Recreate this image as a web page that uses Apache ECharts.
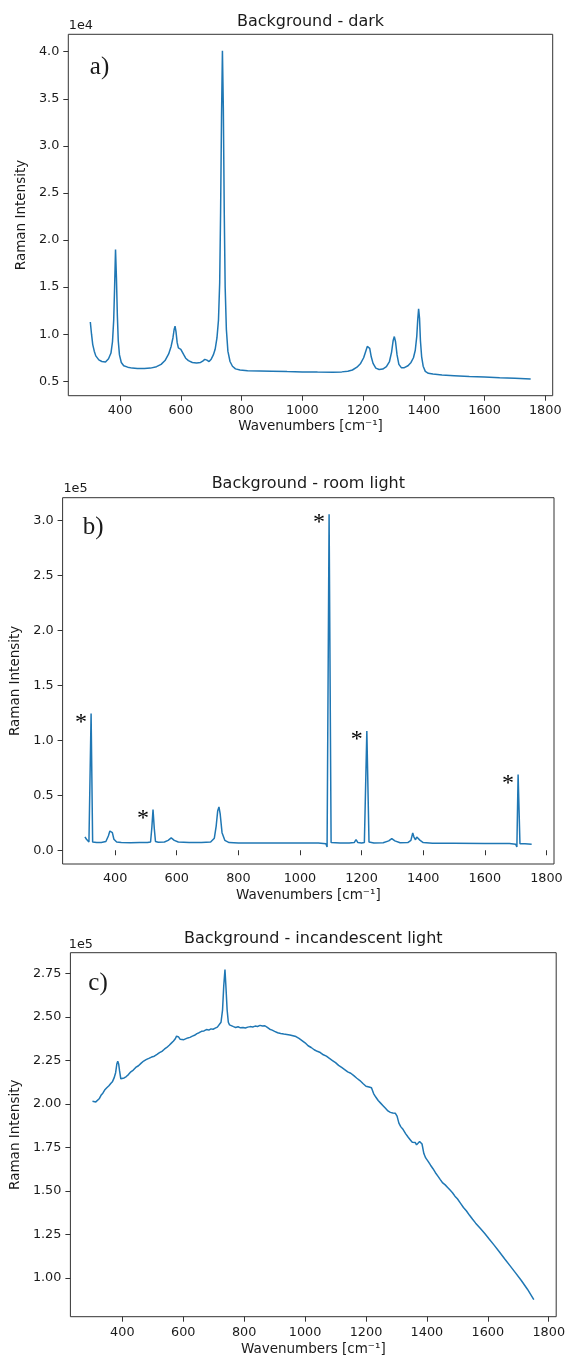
<!DOCTYPE html>
<html>
<head>
<meta charset="utf-8">
<script src="https://cdn.jsdelivr.net/npm/echarts@6/dist/echarts.min.js"></script>
<style>
html,body{margin:0;padding:0;background:#fff;}
#chart{width:568px;height:1361px;}
</style>
</head>
<body>
<div id="chart"></div>
<script>
// ---------- DATA ----------
// Panel a) Background - dark  (intensity in units of 1e4)
const darkX = [302,306,310,315,320,330,340,352,362,370,375,379,382,385,388,391,394,398,404,412,425,440,457,480,500,520,535,548,560,568,574,578,581,584,588,592,596,600,604,610,616,625,638,652,665,672,679,686,693,700,707,713,719,724,728,731,734,737,740,743,746,750,755,762,770,780,795,820,860,900,950,1000,1050,1100,1130,1150,1165,1180,1192,1202,1209,1214,1218,1222,1227,1233,1242,1253,1265,1277,1287,1294,1299,1303,1307,1312,1318,1326,1336,1348,1358,1366,1372,1377,1380,1383,1386,1389,1393,1398,1405,1415,1430,1460,1500,1550,1600,1650,1700,1752];
const darkY = [1.13,1.00,0.89,0.82,0.77,0.727,0.71,0.705,0.74,0.80,0.92,1.15,1.50,1.90,1.60,1.20,0.93,0.78,0.70,0.665,0.65,0.64,0.637,0.637,0.64,0.655,0.68,0.72,0.79,0.87,0.96,1.05,1.085,1.03,0.91,0.855,0.835,0.84,0.82,0.78,0.745,0.72,0.70,0.695,0.70,0.715,0.733,0.725,0.71,0.735,0.78,0.84,0.96,1.15,1.55,2.3,3.3,4.01,3.4,2.3,1.50,1.05,0.82,0.71,0.66,0.632,0.62,0.613,0.61,0.607,0.603,0.60,0.598,0.597,0.60,0.607,0.62,0.65,0.69,0.75,0.82,0.87,0.885,0.85,0.76,0.69,0.64,0.625,0.63,0.655,0.71,0.81,0.93,0.975,0.92,0.78,0.68,0.645,0.645,0.665,0.70,0.75,0.83,0.98,1.15,1.27,1.17,0.93,0.76,0.66,0.605,0.585,0.577,0.568,0.56,0.55,0.545,0.538,0.533,0.525];

// Panel b) Background - room light  (units of 1e5)
const roomX = [302,307,311,315,322,327,332,340,355,370,378,383,387,391,396,405,420,450,480,505,515,519,523,527,531,540,560,572,582,592,605,640,680,710,722,728,733,737,741,747,756,770,800,900,1000,1060,1084,1088,1094.5,1101,1106,1130,1160,1176,1182,1188,1200,1209,1217,1224,1240,1270,1288,1298,1308,1325,1350,1360,1366,1370,1375,1379,1384,1390,1400,1430,1500,1600,1680,1700,1704,1708,1714,1730,1752];
const roomY = [0.121,0.10,0.082,0.075,1.243,0.075,0.072,0.07,0.07,0.08,0.13,0.175,0.187,0.16,0.10,0.075,0.07,0.068,0.07,0.07,0.075,0.2,0.37,0.2,0.08,0.072,0.075,0.09,0.112,0.09,0.075,0.07,0.07,0.075,0.11,0.22,0.36,0.394,0.33,0.16,0.09,0.07,0.066,0.066,0.066,0.066,0.06,0.03,3.055,0.07,0.066,0.066,0.066,0.07,0.097,0.07,0.066,0.07,1.085,0.075,0.066,0.068,0.085,0.106,0.085,0.068,0.07,0.09,0.157,0.12,0.095,0.12,0.127,0.09,0.07,0.064,0.063,0.062,0.061,0.055,0.03,0.688,0.06,0.058,0.055];
// Peaks marked with an asterisk (wavenumber)
const starredPeaks = [322,523,1094.5,1217,1708];

// Panel c) Background - incandescent light  (units of 1e5)
const incX = [302,308,313,318,324,330,336,342,349,356,362,368,373,378,382,385,388,391,395,400,406,413,420,428,436,444,453,462,470,478,487,496,505,514,522,530,538,546,554,561,568,574,578,581,585,590,596,602,608,615,622,630,637,645,652,660,668,676,684,691,698,705,712,718,724,729,733,737,740,744,748,752,758,765,772,780,788,796,804,812,820,828,836,844,852,860,868,876,884,892,900,910,920,930,940,950,960,970,980,990,1000,1010,1020,1030,1040,1050,1060,1070,1080,1090,1100,1110,1120,1130,1140,1150,1160,1170,1180,1190,1200,1210,1218,1225,1232,1240,1248,1256,1264,1272,1280,1288,1296,1302,1308,1314,1322,1330,1338,1345,1352,1358,1362,1366,1371,1376,1380,1384,1390,1396,1404,1412,1420,1428,1436,1444,1452,1460,1468,1476,1484,1492,1500,1510,1520,1530,1540,1550,1560,1575,1590,1605,1620,1637,1655,1672,1691,1710,1730,1751];
const incY = [2.016,2.018,2.012,2.008,2.03,2.05,2.062,2.08,2.093,2.105,2.118,2.13,2.15,2.18,2.23,2.246,2.23,2.19,2.145,2.14,2.15,2.158,2.169,2.185,2.195,2.21,2.22,2.235,2.247,2.255,2.262,2.27,2.275,2.285,2.295,2.303,2.315,2.325,2.338,2.35,2.362,2.375,2.39,2.399,2.385,2.372,2.376,2.37,2.374,2.38,2.383,2.39,2.395,2.405,2.41,2.418,2.42,2.428,2.425,2.432,2.43,2.436,2.442,2.447,2.47,2.54,2.68,2.773,2.68,2.543,2.47,2.455,2.448,2.445,2.44,2.444,2.438,2.44,2.437,2.442,2.445,2.443,2.448,2.446,2.452,2.448,2.45,2.44,2.43,2.425,2.418,2.41,2.405,2.402,2.4,2.397,2.393,2.388,2.377,2.365,2.352,2.335,2.325,2.312,2.303,2.296,2.283,2.275,2.262,2.25,2.238,2.222,2.21,2.198,2.185,2.177,2.163,2.148,2.135,2.118,2.102,2.098,2.093,2.06,2.04,2.02,2.005,1.99,1.975,1.96,1.952,1.948,1.947,1.93,1.89,1.87,1.853,1.83,1.81,1.795,1.78,1.775,1.778,1.765,1.768,1.785,1.792,1.77,1.715,1.69,1.67,1.648,1.628,1.605,1.585,1.565,1.546,1.535,1.52,1.505,1.49,1.47,1.455,1.43,1.405,1.385,1.36,1.337,1.315,1.285,1.255,1.222,1.19,1.152,1.11,1.072,1.029,0.985,0.935,0.875];

// Tick labels
const xTicks = [400,600,800,1000,1200,1400,1600,1800];
const yTicksA = [0.5,1.0,1.5,2.0,2.5,3.0,3.5,4.0];
const yTicksB = [0.0,0.5,1.0,1.5,2.0,2.5,3.0];
const yTicksC = [1.00,1.25,1.50,1.75,2.00,2.25,2.50,2.75];

// ---------- CHART ----------
const FONT = 'DejaVu Sans';
const TXT = '#1a1a1a';
const LINE = '#1f77b4';
const chart = echarts.init(document.getElementById('chart'), null, {renderer:'canvas'});

function pairs(xs, ys){ return xs.map((x,i)=>[x, ys[i]]); }

function xAxisCfg(idx, labelMargin, nameGap){
  return {
    type:'value', gridIndex:idx, min:229.5, max:1824.5,
    axisLine:{show:false},
    axisTick:{show:true, length:5, lineStyle:{color:'#333', width:1}, customValues:xTicks},
    axisLabel:{color:TXT, fontFamily:FONT, fontSize:12.8, margin:labelMargin, customValues:xTicks, formatter:v=>String(v)},
    splitLine:{show:false},
    name:'Wavenumbers [cm\u207B\u00B9]', nameLocation:'middle', nameGap:nameGap,
    nameTextStyle:{color:TXT, fontFamily:FONT, fontSize:13.5}
  };
}
function yAxisCfg(idx, min, max, ticks, dec, nameGap){
  return {
    type:'value', gridIndex:idx, min:min, max:max,
    axisLine:{show:false},
    axisTick:{show:true, length:5, lineStyle:{color:'#333', width:1}, customValues:ticks},
    axisLabel:{color:TXT, fontFamily:FONT, fontSize:12.8, margin:9, customValues:ticks, formatter:v=>v.toFixed(dec)},
    splitLine:{show:false},
    name:'Raman Intensity', nameLocation:'middle', nameGap:nameGap, nameRotate:90,
    nameTextStyle:{color:TXT, fontFamily:FONT, fontSize:13.5}
  };
}
function gridCfg(left, top, width, height){
  return {left:left, top:top, width:width, height:height, show:true, borderColor:'#333', borderWidth:1, backgroundColor:'#fff'};
}
function txt(x, y, text, size, family, align){
  return {type:'text', x:x, y:y, z:100, style:{text:text, fontSize:size, fontFamily:family, fill:TXT, align:align||'center', verticalAlign:'middle'}};
}

const roomData = pairs(roomX, roomY);
const starData = starredPeaks.map(px => {
  const i = roomX.indexOf(px);
  return {coord:[roomX[i], roomY[i]]};
});

const option = {
  animation:false,
  backgroundColor:'#fff',
  grid:[
    gridCfg(68.3, 34.3, 484.4, 361.4),
    gridCfg(62.6, 497.7, 491.4, 366.3),
    gridCfg(69, 952.7, 488.5, 364)
  ],
  xAxis:[ xAxisCfg(0, 8, 24), xAxisCfg(1, 8, 24), xAxisCfg(2, 9.5, 26) ],
  yAxis:[
    yAxisCfg(0, 0.347, 4.185, yTicksA, 1, 36.5),
    yAxisCfg(1, -0.125, 3.205, yTicksB, 1, 37.5),
    yAxisCfg(2, 0.777, 2.870, yTicksC, 2, 46)
  ],
  series:[
    {type:'line', xAxisIndex:0, yAxisIndex:0, data:pairs(darkX, darkY), showSymbol:false, symbol:'none',
     lineStyle:{color:LINE, width:1.5}, z:3},
    {type:'line', xAxisIndex:1, yAxisIndex:1, data:roomData, showSymbol:false, symbol:'none',
     lineStyle:{color:LINE, width:1.5}, z:3,
     markPoint:{symbol:'circle', symbolSize:1, itemStyle:{color:'rgba(0,0,0,0)'}, silent:true,
       label:{show:true, position:'inside', formatter:'*', offset:[-10,9], color:'#000', fontSize:24, fontFamily:'Liberation Serif'},
       data:starData}},
    {type:'line', xAxisIndex:2, yAxisIndex:2, data:pairs(incX, incY), showSymbol:false, symbol:'none',
     lineStyle:{color:LINE, width:1.5}, z:3}
  ],
  graphic:[
    txt(310.5, 21.7, 'Background - dark', 16, FONT),
    txt(308.3, 484, 'Background - room light', 16, FONT),
    txt(313.3, 939.3, 'Background - incandescent light', 16, FONT),
    txt(68.8, 26, '1e4', 12.8, FONT, 'left'),
    txt(63.4, 489, '1e5', 12.8, FONT, 'left'),
    txt(68.8, 944.7, '1e5', 12.8, FONT, 'left'),
    txt(89.8, 67.5, 'a)', 25, 'Liberation Serif', 'left'),
    txt(82.7, 527.5, 'b)', 25, 'Liberation Serif', 'left'),
    txt(88.3, 983.3, 'c)', 25, 'Liberation Serif', 'left')
  ]
};
chart.setOption(option);
</script>
</body>
</html>
